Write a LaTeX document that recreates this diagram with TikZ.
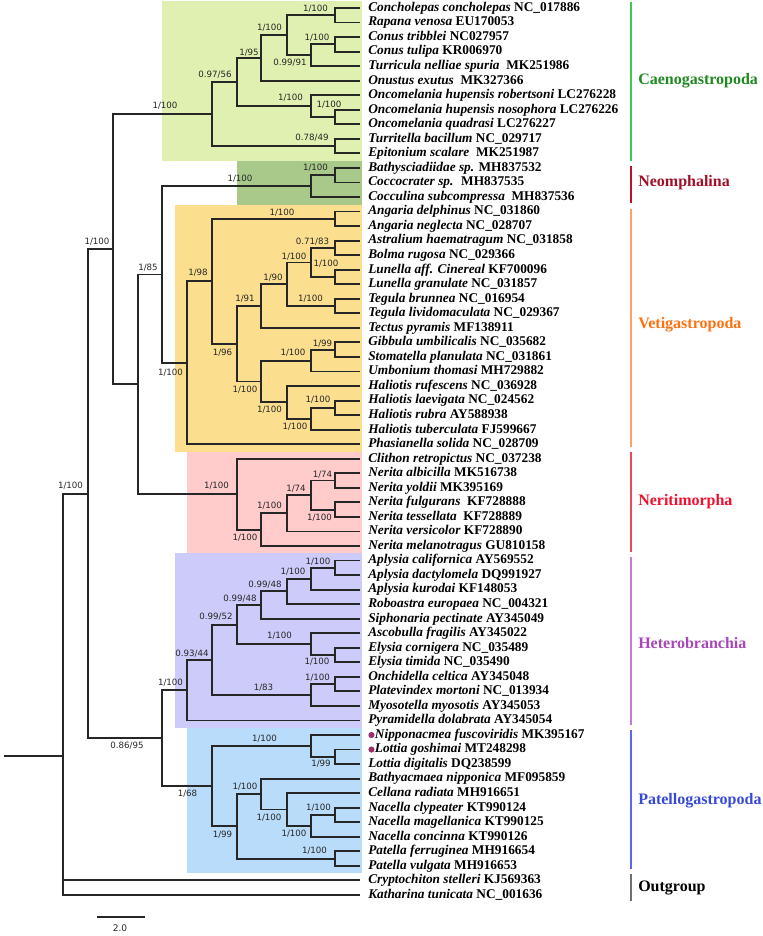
\documentclass[tikz,border=0pt]{standalone}
\usepackage{fontspec}
\setmainfont{Liberation Serif}
\newfontfamily\supfont{DejaVu Sans}

\definecolor{caenobox}{HTML}{E0F0B0}
\definecolor{neombox}{HTML}{A8C98A}
\definecolor{vetibox}{HTML}{FCDF8E}
\definecolor{neribox}{HTML}{FFCBCB}
\definecolor{hetebox}{HTML}{CDCBFA}
\definecolor{patebox}{HTML}{B9DCFA}
\definecolor{caenobar}{HTML}{3DC94A}
\definecolor{caenotxt}{HTML}{1F8A22}
\definecolor{neombar}{HTML}{C0102C}
\definecolor{neomtxt}{HTML}{A01028}
\definecolor{vetibar}{HTML}{FFA060}
\definecolor{vetitxt}{HTML}{FF7010}
\definecolor{neribar}{HTML}{F04858}
\definecolor{neritxt}{HTML}{F01030}
\definecolor{hetebar}{HTML}{C878D8}
\definecolor{hetetxt}{HTML}{A848B8}
\definecolor{patebar}{HTML}{5868F0}
\definecolor{patetxt}{HTML}{3848D8}
\definecolor{outbar}{HTML}{707070}
\definecolor{dotcol}{HTML}{9B2D6B}

\newcommand\rr[1]{8+14.54*(#1)}
\newcommand\dotsp{\hspace*{5pt}}

\begin{document}
\begin{tikzpicture}[x=0.75pt,y=-0.75pt,
    branch/.style={line width=1.4pt,black!85},
    leaf/.style={anchor=west,inner xsep=6pt,inner ysep=0pt,
        text height=7pt,text depth=2pt,
        font=\fontsize{10}{12}\selectfont\bfseries},
    sup/.style={inner sep=0pt,text=black!85,
        font=\supfont\fontsize{6.5}{7}\selectfont},
    cladename/.style={anchor=west,inner sep=0pt,
        font=\fontsize{12}{14}\selectfont\bfseries},
    bar/.style={line width=1.4pt}]

\useasboundingbox (0,0) rectangle (763,936);

\fill[caenobox] (162,1) rectangle (362,161);
\fill[neombox] (237,161) rectangle (362,205);
\fill[vetibox] (175,205) rectangle (362,452);
\fill[neribox] (187,452) rectangle (362,553);
\fill[hetebox] (175,553) rectangle (362,728);
\fill[patebox] (187,728) rectangle (362,873);

\foreach \sp/\acc [count=\i from 0] in {
    Concholepas concholepas/NC\_017886,
    Rapana venosa/EU170053,
    Conus tribblei/NC027957,
    Conus tulipa/KR006970,
    Turricula nelliae spuria/\ MK251986,
    Onustus exutus/\ MK327366,
    Oncomelania hupensis robertsoni/LC276228,
    Oncomelania hupensis nosophora/LC276226,
    Oncomelania quadrasi/LC276227,
    Turritella bacillum/NC\_029717,
    Epitonium scalare/\ MK251987,
    Bathysciadiidae sp./MH837532,
    Coccocrater sp./\ MH837535,
    Cocculina subcompressa/\ MH837536,
    Angaria delphinus/NC\_031860,
    Angaria neglecta/NC\_028707,
    Astralium haematragum/NC\_031858,
    Bolma rugosa/NC\_029366,
    Lunella aff. Cinereal/KF700096,
    Lunella granulate/NC\_031857,
    Tegula brunnea/NC\_016954,
    Tegula lividomaculata/NC\_029367,
    Tectus pyramis/MF138911,
    Gibbula umbilicalis/NC\_035682,
    Stomatella planulata/NC\_031861,
    Umbonium thomasi/MH729882,
    Haliotis rufescens/NC\_036928,
    Haliotis laevigata/NC\_024562,
    Haliotis rubra/AY588938,
    Haliotis tuberculata/FJ599667,
    Phasianella solida/NC\_028709,
    Clithon retropictus/NC\_037238,
    Nerita albicilla/MK516738,
    Nerita yoldii/MK395169,
    Nerita fulgurans/\ KF728888,
    Nerita tessellata/\ KF728889,
    Nerita versicolor/KF728890,
    Nerita melanotragus/GU810158,
    Aplysia californica/AY569552,
    Aplysia dactylomela/DQ991927,
    Aplysia kurodai/KF148053,
    Roboastra europaea/NC\_004321,
    Siphonaria pectinate/AY345049,
    Ascobulla fragilis/AY345022,
    Elysia cornigera/NC\_035489,
    Elysia timida/NC\_035490,
    Onchidella celtica/AY345048,
    Platevindex mortoni/NC\_013934,
    Myosotella myosotis/AY345053,
    Pyramidella dolabrata/AY345054,
    \dotsp Nipponacmea fuscoviridis/MK395167,
    \dotsp Lottia goshimai/MT248298,
    Lottia digitalis/DQ238599,
    Bathyacmaea nipponica/MF095859,
    Cellana radiata/MH916651,
    Nacella clypeater/KT990124,
    Nacella magellanica/KT990125,
    Nacella concinna/KT990126,
    Patella ferruginea/MH916654,
    Patella vulgata/MH916653,
    Cryptochiton stelleri/KJ569363,
    Katharina tunicata/NC\_001636}
  \node[leaf] (l\i) at (360,{\rr{\i}}) {\textit{\sp} \acc};

\fill[dotcol] ([xshift=8.6pt]l50.west) circle[radius=2.3pt];
\fill[dotcol] ([xshift=8.6pt]l51.west) circle[radius=2.3pt];

\foreach \n/\x/\r in {
    A1/335/0.5, A2/335/2.5, A3/311/3.25, A4/287/1.875, A5/261/3.4375,
    O1/335/7.5, O2/311/6.75, A6/237/5.09375, T1/335/9.5, A7/212/7.296875,
    N1/335/11.5, N2/311/12.25,
    V1/335/14.5, V2/335/16.5, V3/335/18.5, V4/311/17.5, V6/335/20.5,
    V5/287/19, V7/261/20.5, V11/335/23.5, V12/311/24.25, V14/335/27.5,
    V13/311/28.25, V15/287/27.125, V10/261/25.6875, V8/237/23.09375,
    V9/212/18.796875, V16/187/24.3984, V17/162/18.3242,
    R1/335/32.5, R2/335/34.5, R3/311/33.5, R4/287/34.75, R5/261/35.875,
    R6/237/33.4375, R7/138/25.8809, C/113/16.5889,
    H1/335/38.5, H2/311/39.25, H3/287/40.125, H4/261/41.0625,
    H6/335/44.5, H7/311/43.75, H5/237/42.40625, H9/335/46.5,
    H10/311/47.25, H8/212/44.828125, H11/187/46.9141,
    P1/335/51.5, P2/311/50.75, P3/335/55.5, P4/311/56.25, P5/287/55.125,
    P6/261/54.0625, P7/335/58.5, P8/237/56.28125, P9/212/53.5156,
    P10/162/50.2148, G/88/33.4019, root/63/51.467, stub/4/51.467}
  \coordinate (\n) at (\x,{\rr{\r}});

\foreach \a/\n/\b in {
    l0.west/A1/l1.west, l2.west/A2/l3.west, A2/A3/l4.west, A1/A4/A3,
    A4/A5/l5.west, l7.west/O1/l8.west, l6.west/O2/O1, A5/A6/O2,
    l9.west/T1/l10.west, A6/A7/T1,
    l11.west/N1/l12.west, N1/N2/l13.west,
    l14.west/V1/l15.west, l16.west/V2/l17.west, l18.west/V3/l19.west,
    V2/V4/V3, l20.west/V6/l21.west, V4/V5/V6, V5/V7/l22.west,
    l23.west/V11/l24.west, V11/V12/l25.west, l27.west/V14/l28.west,
    V14/V13/l29.west, l26.west/V15/V13, V12/V10/V15, V7/V8/V10,
    V1/V9/V8, V9/V16/l30.west, N2/V17/V16,
    l32.west/R1/l33.west, l34.west/R2/l35.west, R1/R3/R2, R3/R4/l36.west,
    R4/R5/l37.west, l31.west/R6/R5, V17/R7/R6, A7/C/R7,
    l38.west/H1/l39.west, H1/H2/l40.west, H2/H3/l41.west, H3/H4/l42.west,
    l44.west/H6/l45.west, l43.west/H7/H6, H4/H5/H7,
    l46.west/H9/l47.west, H9/H10/l48.west, H5/H8/H10, H8/H11/l49.west,
    l51.west/P1/l52.west, l50.west/P2/P1, l55.west/P3/l56.west,
    P3/P4/l57.west, l54.west/P5/P4, l53.west/P6/P5, l58.west/P7/l59.west,
    P6/P8/P7, P2/P9/P8, H11/P10/P9, C/G/P10, G/root/l61.west}
  \draw[branch] (\a) -| (\n) |- (\b);

\draw[branch] (root) |- (l60.west);
\draw[branch] (stub) -- (root);

\foreach \n/\px/\py/\pp/\bs in {
    A1/315.5/9/1/100, A2/317/38/1/100, A3/290/63/0.99/91,
    A4/269.5/28/1/100, A5/249/53/1/95, O1/329/105/1/100,
    O2/290.5/98/1/100, A6/215/75/0.97/56, T1/312/138/0.78/49,
    A7/165/106/1/100, N1/315.5/168/1/100, N2/240/179/1/100,
    V1/282/213/1/100, V2/312.5/242/0.71/83, V3/326/264/1/100,
    V4/294/257/1/100, V6/310.5/299/1/100, V5/273/278/1/90,
    V7/245/299/1/91, V8/222.5/353/1/96, V9/198/273/1/98,
    V10/245/390/1/100, V11/322.5/344/1/99, V12/293/353/1/100,
    V14/318/400/1/100, V13/295/427/1/100, V15/269.5/410/1/100,
    V16/170.5/373/1/100, V17/148/268/1/85,
    R1/322.5/475/1/74, R2/319.5/518/1/100, R3/296/489/1/74,
    R4/269.5/506/1/100, R5/245/538/1/100, R6/216.5/486/1/100,
    C/97/242/1/100,
    H1/318/562/1/100, H2/293/572/1/100, H3/265/585/0.99/48,
    H4/240/599/0.99/48, H5/216/617/0.99/52, H6/317/662/1/100,
    H7/279.5/636/1/100, H8/192/654/0.93/44, H9/317.5/678/1/100,
    H10/263.5/688/1/83, H11/170.5/683/1/100,
    P1/321/764/1/99, P2/264.5/739/1/100, P3/318.5/808/1/100,
    P4/294/834/1/100, P5/269/818/1/100, P6/245/787/1/100,
    P7/314.5/851/1/100, P8/222.5/835/1/99, P9/187.5/794/1/68,
    P10/127/746/0.86/95, G/70.5/486/1/100}
  \node[sup] (s\n) at (\px,\py) {\pp/\bs};

\foreach \n/\ya/\yb/\bc/\tc/\ly/\name in {
    caeno/2/161/caenobar/caenotxt/81/Caenogastropoda,
    neom/166/203/neombar/neomtxt/183/Neomphalina,
    veti/209/447/vetibar/vetitxt/325/Vetigastropoda,
    neri/452/552/neribar/neritxt/502/Neritimorpha,
    hete/557/725/hetebar/hetetxt/643/Heterobranchia,
    pate/730/869/patebar/patetxt/801/Patellogastropoda,
    out/874/901/outbar/black/888/Outgroup} {
  \draw[bar,\bc] (631,\ya) coordinate (\n top) -- (631,\yb) coordinate (\n bot);
  \node[cladename,text=\tc] (\n) at (638,\ly) {\name};
}

\coordinate (sb1) at (97,917);
\coordinate (sb2) at (145,917);
\draw[line width=1.4pt,black!85] (sb1) -- (sb2);
\node[sup,font=\supfont\fontsize{6.8}{8}\selectfont] (sblabel) at (120,928) {2.0};

\end{tikzpicture}
\end{document}
